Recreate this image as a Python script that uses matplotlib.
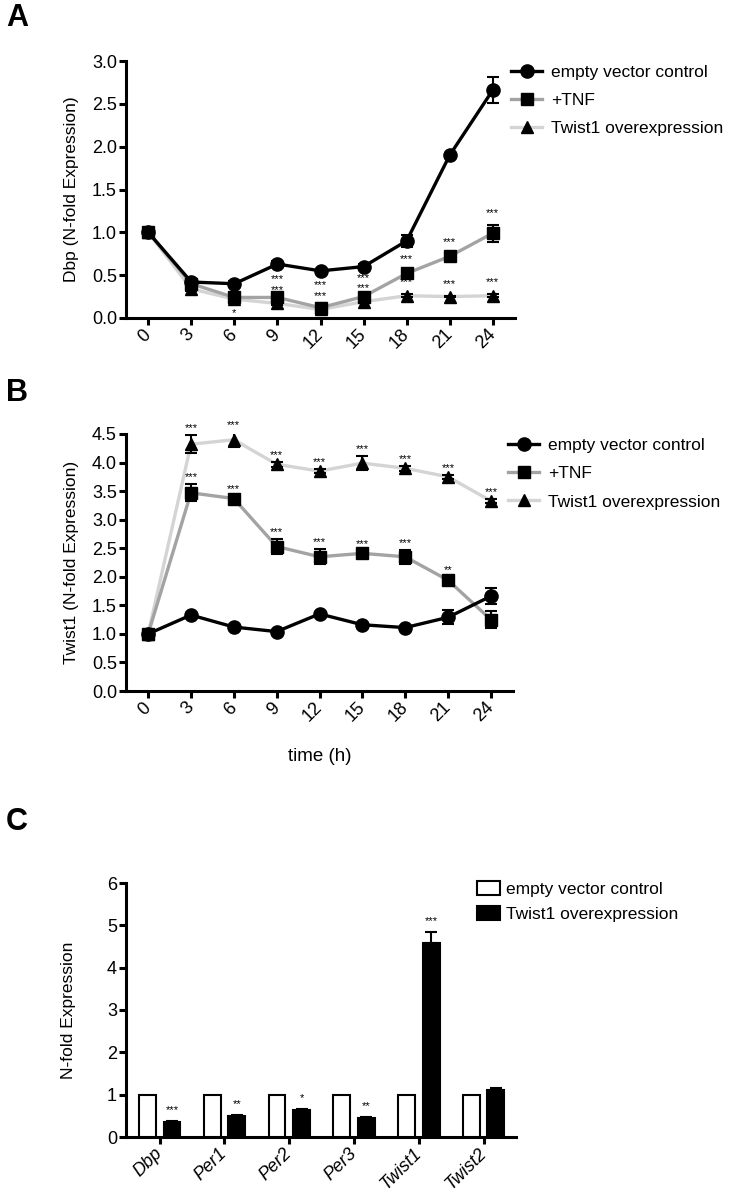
import numpy as np
import matplotlib
matplotlib.use("Agg")
from matplotlib import pyplot as plt

plt.rcParams['font.family'] = ['Liberation Sans', 'DejaVu Sans']

# --- data -------------------------------------------------------------
times = [0, 3, 6, 9, 12, 15, 18, 21, 24]

# panel A: Dbp
dbp_ctrl = [1.00, 0.42, 0.40, 0.63, 0.55, 0.60, 0.90, 1.90, 2.66]
dbp_ctrl_err = [0.02, 0.03, 0.03, 0.03, 0.02, 0.03, 0.07, 0.03, 0.15]
dbp_tnf = [1.00, 0.40, 0.24, 0.24, 0.12, 0.25, 0.52, 0.72, 0.99]
dbp_tnf_err = [0.02, 0.03, 0.05, 0.04, 0.05, 0.04, 0.03, 0.03, 0.10]
dbp_twist = [1.00, 0.34, 0.22, 0.17, 0.10, 0.19, 0.26, 0.25, 0.26]
dbp_twist_err = [0.02, 0.02, 0.03, 0.02, 0.02, 0.02, 0.02, 0.01, 0.02]
dbp_tnf_sig = ['', '', '', '***', '***', '***', '***', '***', '***']
dbp_twist_sig = ['', '', '*', '***', '***', '***', '***', '***', '***']

# panel B: Twist1
tw_ctrl = [1.00, 1.33, 1.12, 1.04, 1.35, 1.16, 1.11, 1.29, 1.66]
tw_ctrl_err = [0.02, 0.03, 0.03, 0.03, 0.03, 0.03, 0.03, 0.12, 0.14]
tw_tnf = [1.00, 3.47, 3.37, 2.53, 2.35, 2.41, 2.35, 1.94, 1.25]
tw_tnf_err = [0.02, 0.15, 0.04, 0.13, 0.13, 0.05, 0.12, 0.05, 0.15]
tw_twist = [1.00, 4.32, 4.40, 3.97, 3.85, 3.99, 3.90, 3.75, 3.33]
tw_twist_err = [0.02, 0.16, 0.13, 0.04, 0.04, 0.12, 0.04, 0.04, 0.03]
tw_tnf_sig = ['', '***', '***', '***', '***', '***', '***', '**', '']
tw_twist_sig = ['', '***', '***', '***', '***', '***', '***', '***', '***']

# panel C: bars
genes = ['Dbp', 'Per1', 'Per2', 'Per3', 'Twist1', 'Twist2']
bar_ctrl = [1.0, 1.0, 1.0, 1.0, 1.0, 1.0]
bar_twist = [0.36, 0.50, 0.64, 0.45, 4.58, 1.10]
bar_twist_err = [0.02, 0.02, 0.02, 0.03, 0.26, 0.06]
bar_sig = ['***', '**', '*', '**', '***', '']

labels = ['empty vector control', '+TNF', 'Twist1 overexpression']

LW = 2.2
TICKFONT = 13
LEGFONT = 12.5
LABFONT = dict(size=12.5)

fig = plt.figure(figsize=(7.46, 11.95), dpi=100)
W, H = 746.0, 1195.0


def px_axes(x0, y0, x1, y1):
    return fig.add_axes([x0 / W, 1 - y1 / H, (x1 - x0) / W, (y1 - y0) / H])


def style(ax):
    for s in ['top', 'right']:
        ax.spines[s].set_visible(False)
    for s in ['left', 'bottom']:
        ax.spines[s].set_linewidth(LW)
    ax.tick_params(width=LW, length=5, labelsize=TICKFONT, pad=1.5)


def line_panel(ax, ctrl, ce, tnf, te, tw, we):
    ax.plot(times, tw, '-', color='#d4d4d4', lw=2.4, zorder=2)
    ax.plot(times, tnf, '-', color='#a3a3a3', lw=2.4, zorder=3)
    ax.plot(times, ctrl, '-', color='black', lw=2.4, zorder=4)
    ax.errorbar(times, tw, yerr=we, fmt='^', color='black', ms=9, capsize=4,
                elinewidth=1.5, capthick=1.5, zorder=5)
    ax.errorbar(times, tnf, yerr=te, fmt='s', color='black', ms=9, capsize=4,
                elinewidth=1.5, capthick=1.5, zorder=6)
    ax.errorbar(times, ctrl, yerr=ce, fmt='o', color='black', ms=9.5, capsize=4,
                elinewidth=1.5, capthick=1.5, zorder=7)
    ax.set_xlim(-1.55, 25.55)
    ax.set_xticks(times)
    ax.set_xticklabels([str(t) for t in times], rotation=45, ha='right',
                       va='center', rotation_mode='anchor')
    for lab in ax.get_xticklabels():
        lab.set_y(-0.02)
    # legend proxies
    h1, = ax.plot([], [], '-o', color='black', mfc='black', mec='black', ms=9.5, lw=2.4)
    h2, = ax.plot([], [], '-s', color='#a3a3a3', mfc='black', mec='black', ms=9, lw=2.4)
    h3, = ax.plot([], [], '-^', color='#d4d4d4', mfc='black', mec='black', ms=9, lw=2.4)
    return [h1, h2, h3]


def stars(ax, x, lab, y):
    if lab:
        ax.text(x, y, lab, ha='center', va='center', fontsize=8, zorder=8)


# ---------------- panel A ----------------
axA = px_axes(126, 61, 515, 318)
style(axA)
hA = line_panel(axA, dbp_ctrl, dbp_ctrl_err, dbp_tnf, dbp_tnf_err, dbp_twist, dbp_twist_err)
axA.set_ylim(0, 3.0)
axA.set_yticks(np.arange(0, 3.01, 0.5))
axA.set_yticklabels(['%.1f' % v for v in np.arange(0, 3.01, 0.5)])
axA.set_ylabel('Dbp (N-fold Expression)', labelpad=9, **LABFONT)
dA = 0.14
for i, t in enumerate(times):
    wy = dbp_twist[i] + dbp_twist_err[i] + dA
    if i == 2:
        wy = dbp_twist[i] - dbp_twist_err[i] - 0.13
    stars(axA, t, dbp_twist_sig[i], wy)
    ty = dbp_tnf[i] + dbp_tnf_err[i] + dA
    if dbp_twist_sig[i] and i != 2:
        ty = max(ty, wy + 0.12)
    stars(axA, t, dbp_tnf_sig[i], ty)
fig.legend(hA, labels, loc='upper left', bbox_to_anchor=(511 / W, 1 - 65 / H),
           frameon=False, fontsize=LEGFONT, handlelength=1.8, handletextpad=0.5,
           labelspacing=0.75, borderpad=0, borderaxespad=0)

# ---------------- panel B ----------------
axB = px_axes(126, 434, 513, 691)
style(axB)
hB = line_panel(axB, tw_ctrl, tw_ctrl_err, tw_tnf, tw_tnf_err, tw_twist, tw_twist_err)
axB.set_ylim(0, 4.5)
axB.set_yticks(np.arange(0, 4.51, 0.5))
axB.set_yticklabels(['%.1f' % v for v in np.arange(0, 4.51, 0.5)])
axB.set_ylabel('Twist1 (N-fold Expression)', labelpad=9, **LABFONT)
axB.set_xlabel('time (h)', fontsize=13.5, labelpad=16)
dB = 0.12
for i, t in enumerate(times):
    stars(axB, t, tw_twist_sig[i], tw_twist[i] + tw_twist_err[i] + dB)
    stars(axB, t, tw_tnf_sig[i], tw_tnf[i] + tw_tnf_err[i] + dB)
fig.legend(hB, labels, loc='upper left', bbox_to_anchor=(508 / W, 1 - 438 / H),
           frameon=False, fontsize=LEGFONT, handlelength=1.8, handletextpad=0.5,
           labelspacing=0.75, borderpad=0, borderaxespad=0)

# ---------------- panel C ----------------
axC = px_axes(126, 883, 516, 1137)
style(axC)
xc = np.arange(len(genes))
bw = 0.26
b1 = axC.bar(xc - 0.19, bar_ctrl, bw, color='white', edgecolor='black', lw=1.5, zorder=3)
b2 = axC.bar(xc + 0.19, bar_twist, bw, color='black', edgecolor='black', lw=1.5, zorder=3)
axC.errorbar(xc + 0.19, bar_twist, yerr=[np.zeros(len(genes)), bar_twist_err],
             fmt='none', ecolor='black', capsize=4, elinewidth=1.5, capthick=1.5, zorder=4)
for i in range(len(genes)):
    stars(axC, xc[i] + 0.19, bar_sig[i], bar_twist[i] + bar_twist_err[i] + 0.25)
axC.set_xlim(-0.52, 5.5)
axC.set_ylim(0, 6)
axC.set_yticks(range(7))
axC.set_xticks(xc)
axC.set_xticklabels(genes, rotation=45, ha='right', va='center',
                    rotation_mode='anchor', style='italic')
for lab in axC.get_xticklabels():
    lab.set_y(-0.02)
axC.set_ylabel('N-fold Expression', labelpad=22, **LABFONT)
fig.legend([b1, b2], ['empty vector control', 'Twist1 overexpression'], loc='upper left',
           bbox_to_anchor=(477 / W, 1 - 881 / H), frameon=False, fontsize=LEGFONT,
           handlelength=1.3, handleheight=0.85, handletextpad=0.35,
           labelspacing=0.55, borderpad=0, borderaxespad=0)

# panel letters
for lab, y in [('A', 18), ('B', 393), ('C', 822)]:
    fig.text(6 / W, 1 - y / H, lab, fontsize=22, fontweight='bold',
             ha='left', va='center')

fig.savefig('out.png', dpi=100)
